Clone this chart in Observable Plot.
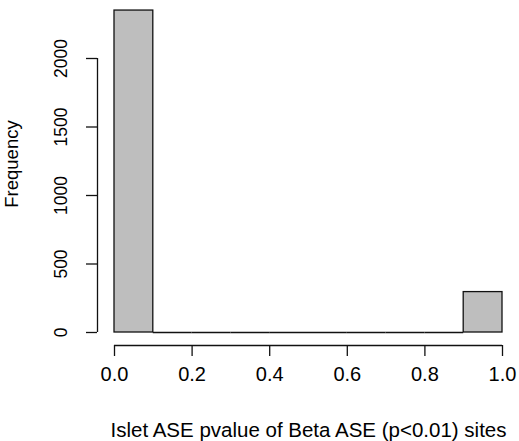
<!DOCTYPE html>
<html>
<head>
<meta charset="utf-8">
<script src="https://cdn.jsdelivr.net/npm/d3@7"></script>
<script src="https://cdn.jsdelivr.net/npm/@observablehq/plot@0.6"></script>
<style>
  html, body { margin: 0; padding: 0; background: #fff; }
  svg { display: block; }
</style>
</head>
<body>
<div id="chart"></div>
<script>
// Histogram bins (edges) and counts
const binStart = [0.0, 0.1, 0.2, 0.3, 0.4, 0.5, 0.6, 0.7, 0.8, 0.9];
const binEnd   = [0.1, 0.2, 0.3, 0.4, 0.5, 0.6, 0.7, 0.8, 0.9, 1.0];
const counts   = [2350, 0, 0, 0, 0, 0, 0, 0, 0, 295];
const yTicks = [0, 500, 1000, 1500, 2000];
const yTickLabels = ["0", "500", "1000", "1500", "2000"];
const xTicks = [0, 0.2, 0.4, 0.6, 0.8, 1.0];
const xTickLabels = ["0.0", "0.2", "0.4", "0.6", "0.8", "1.0"];
const xTitle = "Islet ASE pvalue of Beta ASE (p<0.01) sites";
const yTitle = "Frequency";

const bins = binStart.map((s, i) => ({x1: s, x2: binEnd[i], count: counts[i]}));
const yTickData = yTicks.map((v, i) => ({v, label: yTickLabels[i]}));
const W = 519, H = 441;
const mL = 114, mR = 17, mB = 109, mT = 0;

const chart = Plot.plot({
  width: W, height: H,
  marginLeft: mL, marginRight: mR, marginBottom: mB, marginTop: mT,
  style: {fontFamily: "'Liberation Sans', Arial, Helvetica, sans-serif", background: "#fff", color: "#000"},
  x: {domain: [0, 1], range: [mL, W - mR]},
  y: {domain: [0, 2000], range: [H - mB, 58]},
  marks: [
    Plot.rectY(bins.filter(d => d.count > 0), {x1: "x1", x2: "x2", y1: 0, y2: "count", fill: "#bebebe", stroke: "#111", strokeWidth: 1.3}),
    Plot.ruleY(bins.filter(d => d.count === 0), {x1: "x1", x2: "x2", y: "count", stroke: "#111", strokeWidth: 1.3}),
    // y axis
    Plot.ruleX([0], {y1: yTicks[0], y2: yTicks[yTicks.length - 1], dx: -17, stroke: "#111", strokeWidth: 1.3}),
    Plot.axisY({ticks: yTicks, tickSize: 11, dx: -17, fill: "none", label: null, stroke: "#111", strokeWidth: 1.3}),
    Plot.text(yTickData, {y: "v", text: "label", frameAnchor: "left", dx: -53, rotate: -90, textAnchor: "middle", lineAnchor: "middle", fontSize: 17.5, fill: "#000"}),
    // x axis
    Plot.ruleY([0], {x1: xTicks[0], x2: xTicks[xTicks.length - 1], dy: 13, stroke: "#111", strokeWidth: 1.3}),
    Plot.axisX({ticks: xTicks, tickSize: 11, dy: 13, tickPadding: 10, fontSize: 20, label: null, tickFormat: (d, i) => xTickLabels[i], stroke: "#111", strokeWidth: 1.3}),
    // titles
    Plot.text([xTitle], {text: d => d, frameAnchor: "bottom", dy: 98, lineAnchor: "middle", fontSize: 20.5, fill: "#000"}),
    Plot.text([yTitle], {text: d => d, frameAnchor: "left", dx: -102, dy: -2.5, rotate: -90, textAnchor: "middle", lineAnchor: "middle", fontSize: 18.5, fill: "#000"})
  ]
});
document.getElementById("chart").appendChild(chart);
</script>
</body>
</html>
